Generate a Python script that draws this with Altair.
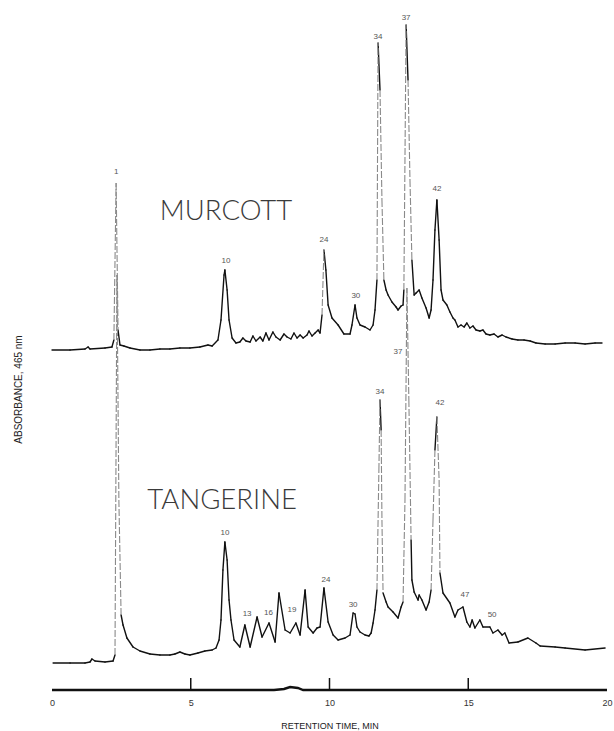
import altair as alt
import pandas as pd
import numpy as np

# ---- Data (retention time in min, absorbance in arbitrary units, traces stacked) ----
murcott_t = [0.00, 0.65, 1.19, 1.30, 1.37, 1.91, 2.16, 2.23, 2.31, 2.38, 2.45, 2.59, 2.81, 3.17, 3.53, 3.89,
             4.25, 4.61, 4.97, 5.33, 5.62, 5.77, 5.98, 6.09, 6.20, 6.23, 6.31, 6.38, 6.49, 6.63, 6.77, 6.88,
             6.99, 7.14, 7.24, 7.35, 7.50, 7.60, 7.71, 7.82, 7.96, 8.07, 8.22, 8.36, 8.47, 8.61, 8.72, 8.83,
             8.94, 9.05, 9.19, 9.26, 9.37, 9.48, 9.59, 9.66, 9.73, 9.80, 9.87, 9.95, 10.09, 10.31, 10.52, 10.74,
             10.81, 10.92, 10.99, 11.10, 11.28, 11.46, 11.57, 11.64, 11.71, 11.75, 11.82, 11.89, 11.96, 12.04,
             12.11, 12.25, 12.40, 12.47, 12.58, 12.65, 12.68, 12.76, 12.83, 12.90, 12.97, 13.05, 13.12, 13.23,
             13.33, 13.48, 13.59, 13.66, 13.73, 13.80, 13.87, 13.95, 14.02, 14.09, 14.23, 14.34, 14.45, 14.52,
             14.63, 14.74, 14.85, 14.95, 15.06, 15.17, 15.28, 15.42, 15.53, 15.64, 15.78, 15.93, 16.07, 16.22,
             16.36, 16.58, 16.79, 17.01, 17.23, 17.44, 17.77, 18.13, 18.49, 18.85, 19.21, 19.57, 19.82]
murcott_v = [34.0, 34.0, 34.1, 34.3, 34.1, 34.2, 34.3, 35.0, 50.7, 36.0, 34.5, 34.4, 34.2, 34.0, 34.0, 34.1,
             34.1, 34.2, 34.2, 34.3, 34.5, 34.4, 35.0, 37.0, 41.5, 42.0, 40.0, 37.0, 35.2, 34.7, 34.8, 35.2,
             34.9, 34.8, 35.4, 34.9, 35.3, 34.9, 35.7, 35.0, 35.8, 35.3, 35.0, 35.6, 35.3, 35.1, 35.7, 35.2,
             35.5, 35.2, 35.5, 35.9, 35.4, 35.7, 36.0, 35.7, 37.5, 44.0, 42.0, 38.5, 37.2, 36.5, 35.6, 35.6,
             36.5, 38.5, 37.2, 36.5, 36.3, 36.0, 36.5, 38.0, 41.0, 64.7, 60.0, 49.0, 41.0, 40.0,
             39.5, 38.8, 38.3, 38.0, 38.4, 38.5, 40.0, 66.5, 61.0, 51.0, 43.0, 39.5, 39.7, 40.0,
             39.2, 38.2, 37.2, 38.0, 41.0, 46.0, 49.0, 45.0, 40.0, 39.0, 38.5, 37.8, 37.2, 37.0,
             36.3, 36.5, 36.3, 36.7, 36.2, 36.4, 36.0, 35.9, 36.0, 35.6, 35.5, 35.6, 35.3, 35.5,
             35.3, 35.1, 35.0, 35.0, 34.9, 34.7, 34.6, 34.6, 34.7, 34.7, 34.6, 34.7, 34.7]

tangerine_t = [0.04, 0.65, 1.19, 1.37, 1.44, 1.55, 1.91, 2.20, 2.27, 2.34, 2.41, 2.49, 2.56, 2.70, 2.92, 3.17,
               3.53, 3.89, 4.25, 4.43, 4.61, 4.79, 4.97, 5.26, 5.51, 5.77, 5.91, 6.02, 6.09, 6.16, 6.23, 6.31,
               6.38, 6.45, 6.56, 6.77, 6.95, 7.14, 7.39, 7.57, 7.82, 8.04, 8.18, 8.40, 8.58, 8.79, 8.94, 9.12,
               9.23, 9.41, 9.55, 9.66, 9.80, 9.95, 10.13, 10.31, 10.56, 10.74, 10.85, 10.92, 10.99, 11.10, 11.28,
               11.42, 11.50, 11.57, 11.64, 11.71, 11.78, 11.82, 11.86, 11.89, 11.93, 12.04, 12.11, 12.29, 12.47,
               12.58, 12.65, 12.72, 12.79, 12.86, 12.94, 12.97, 13.05, 13.19, 13.23, 13.33, 13.48, 13.59, 13.66,
               13.73, 13.80, 13.87, 13.95, 13.98, 14.09, 14.34, 14.52, 14.63, 14.81, 14.95, 15.06, 15.14, 15.24,
               15.42, 15.53, 15.78, 15.89, 16.07, 16.22, 16.32, 16.47, 16.79, 17.15, 17.44, 17.59, 18.13, 18.49,
               19.21, 19.93]
tangerine_v = [2.7, 2.7, 2.7, 2.8, 3.1, 2.9, 2.8, 2.9, 3.5, 41.5, 19.0, 7.5, 6.5, 5.2, 4.3, 3.9,
               3.6, 3.5, 3.5, 3.6, 3.8, 3.6, 3.5, 3.7, 3.9, 4.0, 4.2, 5.0, 7.0, 12.0, 14.8, 13.0,
               9.0, 7.0, 5.0, 4.3, 6.5, 4.3, 7.3, 5.3, 6.7, 4.8, 9.7, 6.0, 5.7, 6.7, 5.5, 10.0,
               6.3, 5.7, 6.2, 6.3, 10.2, 6.8, 5.5, 5.0, 5.2, 5.5, 7.7, 7.6, 6.3, 5.8, 5.5,
               5.4, 5.7, 6.7, 8.0, 10.0, 22.0, 29.0, 26.0, 17.0, 9.7, 8.8, 8.3, 7.8, 7.2,
               8.3, 8.8, 19.0, 40.2, 29.0, 15.0, 11.0, 9.8, 9.0, 9.5, 9.0, 8.0, 8.8, 10.0,
               17.0, 24.0, 27.3, 21.0, 11.7, 9.7, 8.7, 7.3, 8.0, 8.3, 6.8, 6.3, 7.0, 6.2,
               7.0, 6.3, 6.3, 5.7, 6.0, 5.5, 5.7, 4.7, 4.8, 5.2, 4.7, 4.4, 4.3, 4.2,
               4.0, 4.2]

# detector zero / time base line
base_t = [0.0, 8.0, 8.36, 8.58, 8.86, 9.05, 20.0]
base_v = [0.0, 0.0, 0.1, 0.3, 0.2, 0.0, 0.0]

tick_t = [5, 10, 15]
tick_len = [1.2, 1.2, 1.2]

peak_labels = ["1", "10", "24", "30", "34", "37", "42",
               "10", "13", "16", "19", "24", "30", "34", "37", "42", "47", "50"]
peak_label_t = [2.31, 6.27, 9.80, 10.95, 11.75, 12.76, 13.87,
                6.23, 7.03, 7.80, 8.65, 9.87, 10.85, 11.82, 12.47, 13.98, 14.88, 15.86]
peak_label_v = [51.8, 42.9, 45.0, 39.4, 65.3, 67.2, 50.1,
                15.7, 7.6, 7.7, 8.0, 11.0, 8.5, 29.8, 33.8, 28.7, 9.5, 7.5]

trace_names = ["MURCOTT", "TANGERINE"]
trace_name_t = [6.27, 6.13]
trace_name_v = [47.8, 18.9]

# ---- build tables ----
def segments(t, v, name):
    t = np.asarray(t); v = np.asarray(v)
    df = pd.DataFrame({"t": t[:-1], "v": v[:-1], "t2": t[1:], "v2": v[1:]})
    df["series"] = name
    df["steep"] = np.abs(df["v2"] - df["v"]) > 6.0
    return df

seg = pd.concat([segments(murcott_t, murcott_v, "Murcott"),
                 segments(tangerine_t, tangerine_v, "Tangerine")], ignore_index=True)
seg_norm = seg[~seg["steep"]]
seg_steep = seg[seg["steep"]]
base_df = pd.DataFrame({"t": base_t, "v": base_v})
tick_df = pd.DataFrame({"t": tick_t, "v": [0] * len(tick_t), "v2": tick_len})
lab_df = pd.DataFrame({"t": peak_label_t, "v": peak_label_v, "label": peak_labels})
name_df = pd.DataFrame({"t": trace_name_t, "v": trace_name_v, "label": trace_names})

FONT = "Liberation Sans"
xscale = alt.Scale(domain=[0, 20], nice=False, zero=False)
yscale = alt.Scale(domain=[0, 68], nice=False, zero=False)
xaxis = alt.Axis(values=[0, 5, 10, 15, 20], domain=False, ticks=False, grid=False,
                 labelFontSize=9, labelColor="#333", labelPadding=8, labelFont=FONT,
                 labelFlush=False, format="d",
                 title="RETENTION TIME, MIN", titleFont=FONT, titleFontSize=9,
                 titleFontWeight="normal", titleColor="#222", titlePadding=14)
yaxis = alt.Axis(domain=False, ticks=False, labels=False, grid=False,
                 title="ABSORBANCE, 465 nm", titleFont=FONT, titleFontSize=10,
                 titleFontWeight="normal", titleColor="#222",
                 titleX=-34, titleY=379, titleAlign="center", titleBaseline="middle", titleAngle=-90)

X = alt.X("t:Q", scale=xscale, axis=xaxis)
Y = alt.Y("v:Q", scale=yscale, axis=yaxis)

norm = alt.Chart(seg_norm).mark_rule(color="#111", strokeWidth=1.4, strokeCap="round").encode(
    x=X, y=Y, x2="t2:Q", y2="v2:Q")
steep = alt.Chart(seg_steep).mark_rule(color="#8a8a8a", strokeWidth=1.1, strokeDash=[7, 2]).encode(
    x=X, y=Y, x2="t2:Q", y2="v2:Q")
base = alt.Chart(base_df).mark_line(color="#111", strokeWidth=2.4).encode(x=X, y=Y)
ticks = alt.Chart(tick_df).mark_rule(color="#111", strokeWidth=1.5).encode(x=X, y=Y, y2="v2:Q")
labels = alt.Chart(lab_df).mark_text(fontSize=8, color="#555", font=FONT, baseline="middle").encode(
    x=X, y=Y, text="label:N")
names = alt.Chart(name_df).mark_text(fontSize=27.5, color="#3a3a3a", font="Lato", baseline="middle",
                                     fontWeight=300).encode(x=X, y=Y, text="label:N")

chart = alt.layer(base, ticks, norm, steep, labels, names).properties(
    width=555, height=680,
    padding={"left": 52, "right": 7, "top": 10, "bottom": 41},
    autosize=alt.AutoSizeParams(type="none"),
    background="white",
).configure_view(stroke=None)

chart.save("out.html", embed_options={"renderer": "svg", "actions": False})
